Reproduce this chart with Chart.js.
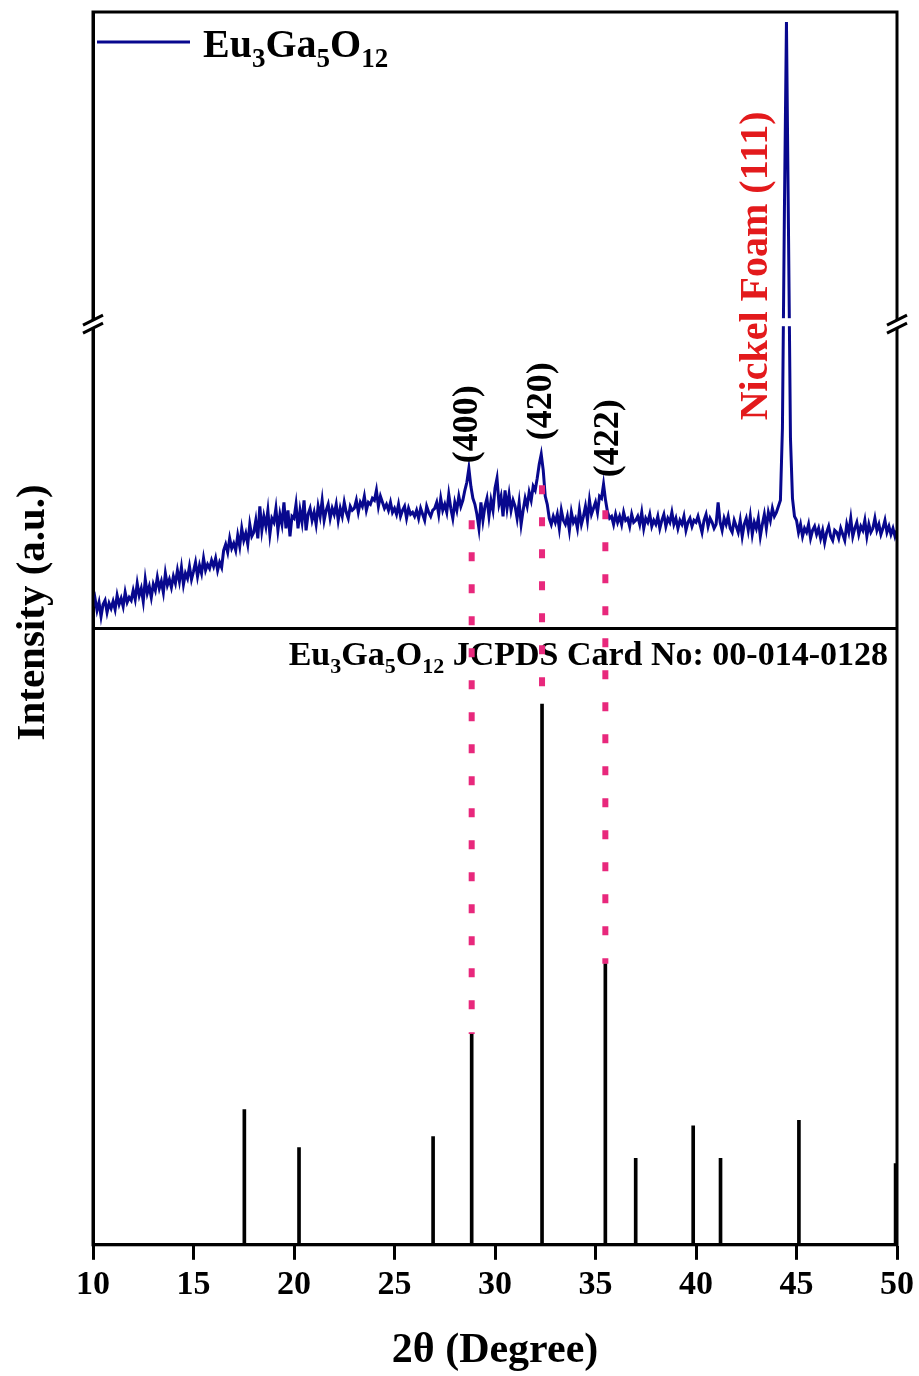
<!DOCTYPE html>
<html>
<head>
<meta charset="utf-8">
<script src="https://cdn.jsdelivr.net/npm/chart.js@4.4.1/dist/chart.umd.min.js"></script>
<style>
html,body{margin:0;padding:0;background:#fff}
canvas{display:block}
</style>
</head>
<body>
<canvas id="xrd" width="919" height="1376"></canvas>
<script>
// XRD scan, 2theta 10..50 in 0.1 deg steps (a.u.)
const scanStart = 10, scanStep = 0.1;
const intensity = [
  22,30,18,26,12,24,28,16,25,20,
  27,19,33,24,30,22,36,26,31,28,
  38,29,45,33,40,27,49,35,42,31,
  44,38,51,40,47,36,55,43,49,41,
  52,45,58,47,61,44,55,50,62,49,
  57,66,52,63,55,70,58,64,60,68,
  62,70,58,66,61,78,84,76,90,80,
  85,78,93,82,100,88,95,84,104,92,
  96,108,90,122,98,112,102,118,94,110,
  106,120,98,114,104,126,100,118,92,112,
  110,124,100,118,106,128,98,114,120,108,
  116,104,122,112,128,108,118,124,110,120,
  114,124,108,120,112,126,116,110,122,118,
  120,128,116,126,122,132,118,126,124,130,
  128,138,122,132,126,120,124,118,126,116,
  120,114,124,112,118,122,110,120,114,116,
  112,118,110,120,114,108,122,116,112,118,
  120,126,114,130,118,124,116,134,120,110,
  126,118,132,122,128,138,146,160,142,130,
  124,114,100,126,108,122,130,112,128,118,
  140,150,124,132,112,138,120,134,118,128,
  122,110,126,104,118,130,122,136,128,142,
  138,150,164,174,158,132,124,110,104,112,
  106,114,100,118,108,104,112,98,116,106,
  110,100,118,104,112,122,108,128,114,120,
  126,116,132,130,144,128,116,110,112,104,
  114,106,112,104,116,108,110,102,114,106,
  108,112,104,116,100,110,106,114,102,108,
  104,112,100,108,114,102,110,106,116,104,
  110,100,108,104,112,98,106,110,102,108,
  106,112,104,96,108,114,102,110,106,100,
  104,126,106,98,110,104,112,100,96,108,
  102,96,108,92,104,110,98,112,94,106,
  100,110,92,104,114,100,116,108,120,112,
  116,122,128,200,420,606,400,190,130,112,
  108,96,104,92,100,96,104,90,98,102,
  94,100,90,98,86,96,102,92,88,98,
  96,90,100,94,88,104,96,110,92,100,
  106,94,102,98,108,92,104,96,100,110,
  98,104,94,100,108,96,102,94,100,92,
  98
];

// JCPDS 00-014-0128 stick pattern (relative intensity)
const refAngles  = [17.53, 20.25, 26.92, 28.84, 32.34, 35.49, 37.0, 39.86, 41.22, 45.12, 49.93];
const refHeights = [25, 18, 20, 39, 100, 52, 16, 22, 16, 23, 15];

// peak labels and guide lines
const hklLabels   = ['(400)', '(420)', '(422)'];
const hklAngles   = [28.66, 32.34, 35.67];
const hklLabelAt  = [165, 188, 151];
const guideAngles = [28.84, 32.34, 35.49];
const guideFrom   = [108, 143, 118];
const guideTo     = [39, 100, 52];
const niLabel = 'Nickel Foam (111)', niAngle = 43.03, niLabelAt = 208;
const breakAt = 306;

const navy = '#08088e', pink = '#e8287c', red = '#e31a1c';
const serif = '"Liberation Serif", "Times New Roman", serif';

const scanPoints = intensity.map((v, i) => ({x: +(scanStart + i * scanStep).toFixed(1), y: v}));
const refPoints = refAngles.map((a, i) => ({x: a, y: refHeights[i]}));

// text with subscripts: parts = [[text, isSub], ...]
function drawFormula(ctx, parts, x, y, size, subSize, drop) {
  parts.forEach(([t, sub]) => {
    ctx.font = 'bold ' + (sub ? subSize : size) + 'px ' + serif;
    ctx.fillText(t, x, sub ? y + drop : y);
    x += ctx.measureText(t).width;
  });
  return x;
}
function formulaWidth(ctx, parts, size, subSize) {
  let w = 0;
  parts.forEach(([t, sub]) => {
    ctx.font = 'bold ' + (sub ? subSize : size) + 'px ' + serif;
    w += ctx.measureText(t).width;
  });
  return w;
}
const formula = [['Eu', 0], ['3', 1], ['Ga', 0], ['5', 1], ['O', 0], ['12', 1]];

function axisBreak(ctx, cx, cy, marks) {
  ctx.fillStyle = '#fff';
  ctx.beginPath();
  ctx.moveTo(cx - 10, cy + 3); ctx.lineTo(cx + 10, cy - 7);
  ctx.lineTo(cx + 10, cy + 1); ctx.lineTo(cx - 10, cy + 11);
  ctx.closePath(); ctx.fill();
  if (!marks) return;
  ctx.strokeStyle = '#000'; ctx.lineWidth = 3;
  ctx.beginPath();
  ctx.moveTo(cx - 10, cy + 3); ctx.lineTo(cx + 10, cy - 7);
  ctx.moveTo(cx - 10, cy + 11); ctx.lineTo(cx + 10, cy + 1);
  ctx.stroke();
}

const decor = {
  id: 'decor',
  afterDraw(chart) {
    const {ctx, chartArea: a, scales: {x, yTop, yBot}} = chart;
    ctx.save();
    // frame + panel divider
    ctx.strokeStyle = '#000'; ctx.lineWidth = 3;
    ctx.strokeRect(a.left, a.top, a.right - a.left, a.bottom - a.top);
    ctx.beginPath(); ctx.moveTo(a.left, yTop.bottom); ctx.lineTo(a.right, yTop.bottom); ctx.stroke();

    // breaks
    const by = yTop.getPixelForValue(breakAt);
    ctx.fillStyle = '#fff';
    ctx.fillRect(x.getPixelForValue(44.5) - 12, by - 4, 24, 8);
    axisBreak(ctx, a.left, by, true);
    axisBreak(ctx, a.right, by, true);

    // legend
    ctx.strokeStyle = navy; ctx.lineWidth = 3;
    ctx.beginPath(); ctx.moveTo(a.left + 4, a.top + 30); ctx.lineTo(a.left + 97, a.top + 30); ctx.stroke();
    ctx.fillStyle = '#000'; ctx.textBaseline = 'alphabetic'; ctx.textAlign = 'left';
    drawFormula(ctx, formula, a.left + 110, a.top + 45, 40, 27, 10);

    // JCPDS caption
    const cap = ' JCPDS Card No: 00-014-0128';
    const fw = formulaWidth(ctx, formula, 34, 22);
    ctx.font = 'bold 34px ' + serif;
    const capW = fw + ctx.measureText(cap).width;
    const cx = drawFormula(ctx, formula, a.right - 9 - capW, yTop.bottom + 37, 34, 22, 8);
    ctx.font = 'bold 34px ' + serif;
    ctx.fillText(cap, cx, yTop.bottom + 37);

    // guide lines
    ctx.strokeStyle = pink; ctx.lineWidth = 6; ctx.setLineDash([9, 23]);
    guideAngles.forEach((g, i) => {
      const px = x.getPixelForValue(g);
      ctx.beginPath();
      ctx.moveTo(px, yTop.getPixelForValue(guideFrom[i]));
      ctx.lineTo(px, yBot.getPixelForValue(guideTo[i]));
      ctx.stroke();
    });
    ctx.setLineDash([]);

    // rotated labels
    ctx.textBaseline = 'middle'; ctx.textAlign = 'left';
    const vtext = (t, ang, val, color, size) => {
      ctx.save();
      ctx.translate(x.getPixelForValue(ang), yTop.getPixelForValue(val));
      ctx.rotate(-Math.PI / 2);
      ctx.fillStyle = color; ctx.font = 'bold ' + size + 'px ' + serif;
      ctx.fillText(t, 0, 0);
      ctx.restore();
    };
    hklLabels.forEach((t, i) => vtext(t, hklAngles[i], hklLabelAt[i], '#000', 36));
    vtext(niLabel, niAngle, niLabelAt, red, 40);

    // y title
    ctx.save();
    ctx.translate(33, (a.top + a.bottom) / 2 - 16);
    ctx.rotate(-Math.PI / 2);
    ctx.textAlign = 'center'; ctx.fillStyle = '#000';
    ctx.font = 'bold 41px ' + serif;
    ctx.fillText('Intensity (a.u.)', 0, 0);
    ctx.restore();
    ctx.restore();
  }
};

new Chart(document.getElementById('xrd'), {
  type: 'line',
  data: {
    datasets: [
      {type: 'line', data: scanPoints, yAxisID: 'yTop', borderColor: navy, borderWidth: 3,
       pointRadius: 0, tension: 0, fill: false},
      {type: 'bar', data: refPoints, yAxisID: 'yBot', backgroundColor: '#000',
       barThickness: 3, grouped: false}
    ]
  },
  options: {
    responsive: false,
    animation: false,
    devicePixelRatio: 1,
    layout: {padding: {left: 85, right: 22, top: 12, bottom: 0}},
    plugins: {legend: {display: false}, tooltip: {enabled: false}},
    scales: {
      x: {
        type: 'linear', min: 10, max: 50, offset: false,
        ticks: {stepSize: 5, color: '#000', padding: 5, maxRotation: 0,
                font: {family: serif, size: 34, weight: 'bold'}},
        grid: {display: true, offset: false, drawOnChartArea: false, drawTicks: true, tickLength: 15,
               tickWidth: 3, tickColor: '#000'},
        border: {display: true, width: 3, color: '#000'},
        title: {display: true, text: '2θ (Degree)', color: '#000',
                font: {family: serif, size: 42, weight: 'bold'}, padding: {top: 15, bottom: 0}}
      },
      yBot: {
        type: 'linear', position: 'left', stack: 'panels', stackWeight: 1,
        min: 0, max: 114, offset: false,
        ticks: {display: false}, grid: {display: false},
        border: {display: true, width: 3, color: '#000'}
      },
      yTop: {
        type: 'linear', position: 'left', stack: 'panels', stackWeight: 1,
        min: 0, max: 616, offset: false,
        ticks: {display: false}, grid: {display: false},
        border: {display: true, width: 3, color: '#000'}
      }
    }
  },
  plugins: [decor]
});
</script>
</body>
</html>
